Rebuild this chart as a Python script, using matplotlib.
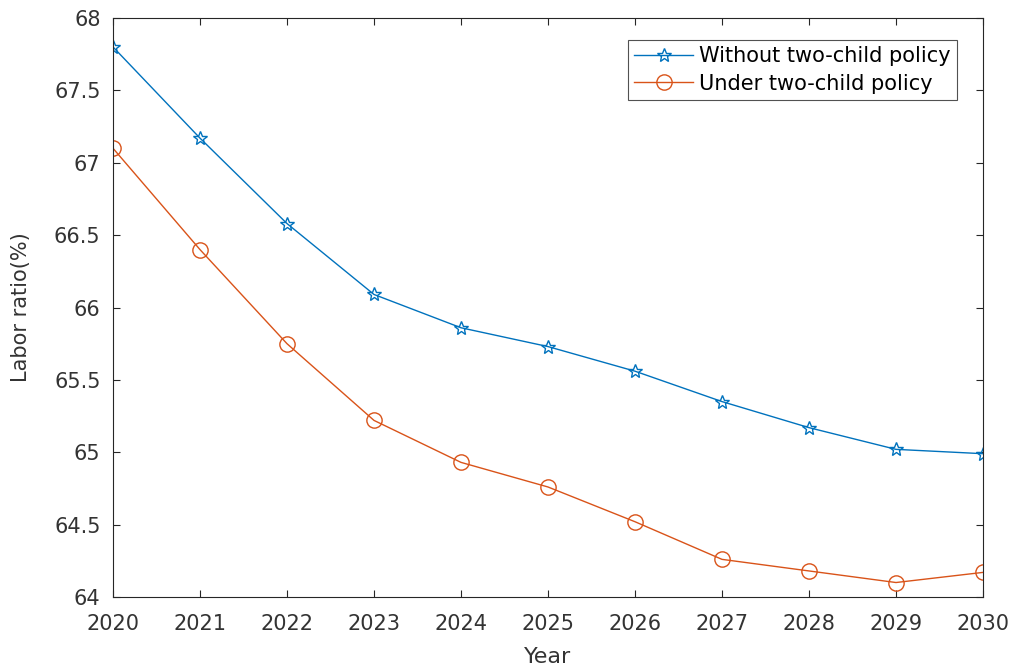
import matplotlib

matplotlib.use("Agg")
import matplotlib.pyplot as plt

years = [2020, 2021, 2022, 2023, 2024, 2025, 2026, 2027, 2028, 2029, 2030]
without_policy = [67.80, 67.17, 66.58, 66.09, 65.86, 65.73, 65.56, 65.35, 65.17, 65.02, 64.99]
under_policy = [67.10, 66.40, 65.75, 65.22, 64.93, 64.76, 64.52, 64.26, 64.18, 64.10, 64.17]
y_ticks = [64, 64.5, 65, 65.5, 66, 66.5, 67, 67.5, 68]
y_tick_labels = ["64", "64.5", "65", "65.5", "66", "66.5", "67", "67.5", "68"]

plt.rcParams["font.family"] = ["DejaVu Sans"]
TEXT_COLOR = "#333333"

fig = plt.figure(figsize=(10.14, 6.71), dpi=100)
ax = fig.add_axes([113 / 1014, 1 - 597 / 671, (983 - 113) / 1014, (597 - 18) / 671])

ax.plot(years, without_policy, color="#0072BD", linewidth=1.0, marker="*",
        markersize=10, markerfacecolor="none", markeredgewidth=1.0,
        label="Without two-child policy")
ax.plot(years, under_policy, color="#D95319", linewidth=1.0, marker="o",
        markersize=11, markerfacecolor="none", markeredgewidth=1.0,
        label="Under two-child policy")

ax.set_xlim(2020, 2030)
ax.set_ylim(64, 68)
ax.set_xticks(years)
ax.set_yticks(y_ticks)
ax.set_yticklabels(y_tick_labels)
ax.tick_params(direction="in", top=True, right=True, length=5, width=0.8,
               labelsize=15, labelcolor=TEXT_COLOR, color="#262626")
ax.tick_params(axis="x", pad=12)
ax.tick_params(axis="y", pad=9)
for spine in ax.spines.values():
    spine.set_color("#262626")
    spine.set_linewidth(0.8)

ax.set_xlabel("Year", fontsize=16, color=TEXT_COLOR)
ax.set_ylabel("Labor ratio(%)", fontsize=15, color=TEXT_COLOR)
ax.xaxis.set_label_coords(0.5, -0.086)
ax.yaxis.set_label_coords(-0.094, 0.5)

leg = ax.legend(loc="upper right", bbox_to_anchor=(0.970, 0.962), fontsize=15,
                frameon=True, fancybox=False, borderpad=0.3, handlelength=2.8,
                handletextpad=0.3, labelspacing=0.35, borderaxespad=0)
leg.get_frame().set_edgecolor("#262626")
leg.get_frame().set_linewidth(0.8)

fig.savefig("out.png", dpi=100)
